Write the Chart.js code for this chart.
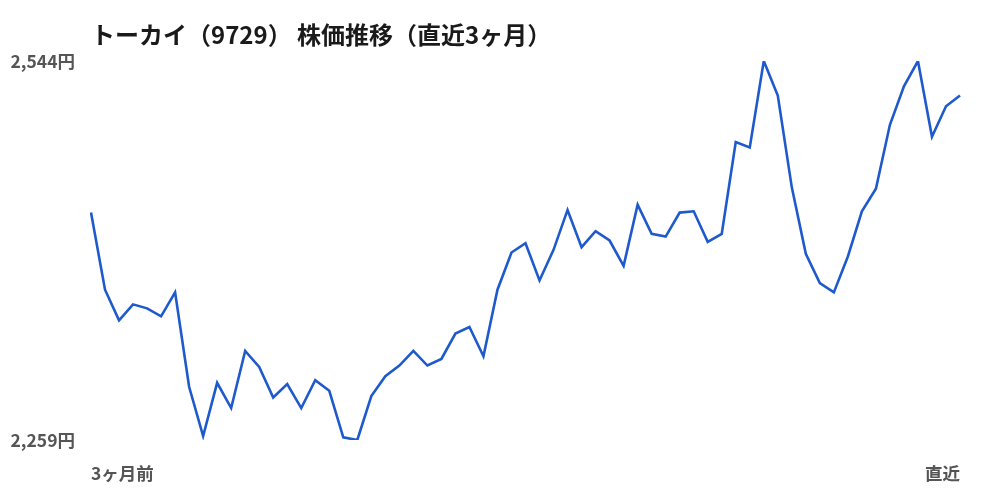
<!DOCTYPE html>
<html lang="ja">
<head>
<meta charset="utf-8">
<script src="https://cdn.jsdelivr.net/npm/chart.js@4"></script>
<style>
  html, body { margin: 0; padding: 0; background: #ffffff; }
  #wrap { width: 1000px; height: 500px; }
</style>
</head>
<body>
<div id="wrap"><canvas id="c" width="1000" height="500"></canvas></div>
<script>
const titleText = 'トーカイ（9729） 株価推移（直近3ヶ月）';
const xTickLabels = ['3ヶ月前', '直近'];
const yTicks = [2259, 2544];
const prices = [
  2430, 2372, 2349, 2361, 2358, 2352, 2370, 2299, 2262, 2302,
  2283, 2326, 2314, 2291, 2301, 2283, 2304, 2296, 2261, 2259,
  2292, 2307, 2315, 2326, 2315, 2320, 2339, 2344, 2322, 2372,
  2400, 2407, 2379, 2402, 2432, 2404, 2416, 2409, 2390, 2436,
  2414, 2412, 2430, 2431, 2408, 2414, 2483, 2479, 2544, 2518,
  2449, 2399, 2377, 2370, 2397, 2431, 2448, 2496, 2525, 2544,
  2487, 2510, 2518
];
const categories = prices.map((_, i) =>
  i === 0 ? xTickLabels[0] : (i === prices.length - 1 ? xTickLabels[1] : ''));

const FONT = '"Noto Sans CJK JP", "Noto Sans", sans-serif';

new Chart(document.getElementById('c'), {
  type: 'line',
  data: {
    labels: categories,
    datasets: [{
      data: prices,
      borderColor: '#1f5acd',
      borderWidth: 2.6,
      pointRadius: 0,
      tension: 0,
      fill: false
    }]
  },
  options: {
    responsive: false,
    animation: false,
    devicePixelRatio: 1,
    layout: { padding: { top: 0, right: 40, bottom: 0, left: 0 } },
    plugins: {
      legend: { display: false },
      tooltip: { enabled: false },
      title: {
        display: true,
        text: titleText,
        align: 'start',
        fullSize: false,
        color: '#1a1a1a',
        font: { family: FONT, size: 24, weight: 'bold' },
        padding: { top: 20.6, bottom: 11.6 }
      }
    },
    scales: {
      x: {
        type: 'category',
        offset: false,
        grid: { display: false, drawTicks: false },
        border: { display: false },
        ticks: {
          autoSkip: false,
          maxRotation: 0,
          minRotation: 0,
          align: 'inner',
          padding: 22.5,
          color: '#555555',
          font: { family: FONT, size: 17.5, weight: 'bold' }
        },
        afterFit: (s) => { s.height = 60; }
      },
      y: {
        min: yTicks[0],
        max: yTicks[yTicks.length - 1],
        grid: { display: false, drawTicks: false },
        border: { display: false },
        afterBuildTicks: (s) => { s.ticks = yTicks.map(v => ({ value: v })); },
        afterFit: (s) => { s.width = 91; },
        ticks: {
          padding: 16,
          color: '#555555',
          font: { family: FONT, size: 17.5, weight: 'bold' },
          callback: (v) => Number(v).toLocaleString('en-US') + '円'
        }
      }
    }
  }
});
</script>
</body>
</html>
